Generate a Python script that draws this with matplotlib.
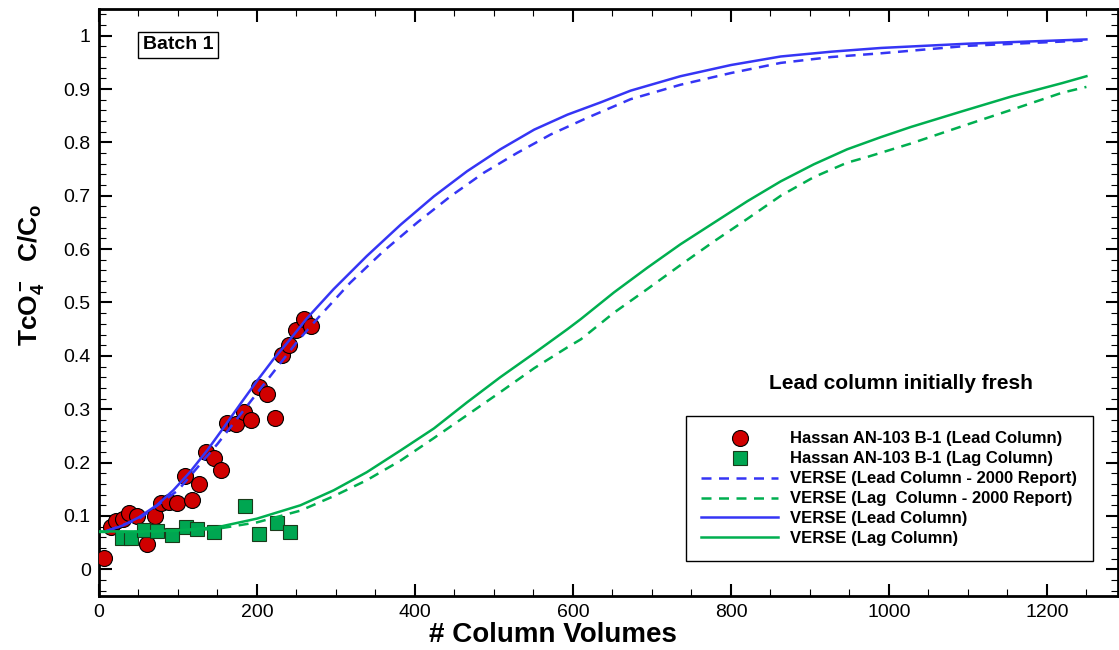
import numpy as np
import matplotlib
matplotlib.use('Agg')
import matplotlib.pyplot as plt
from matplotlib.ticker import MultipleLocator

plt.rcParams['font.family'] = ['Liberation Sans', 'DejaVu Sans']
plt.rcParams['mathtext.fontset'] = 'custom'
plt.rcParams['mathtext.rm'] = 'Liberation Sans:bold'
plt.rcParams['mathtext.it'] = 'Liberation Sans:bold'
plt.rcParams['mathtext.bf'] = 'Liberation Sans:bold'

# Hassan AN-103 B-1 measurements
lead_cv = [6, 15, 22, 30, 38, 48, 61, 71, 79, 89, 99, 109, 118, 127, 135, 145,
           154, 162, 174, 184, 193, 203, 213, 223, 232, 241, 250, 260, 269]
lead_c = [0.022, 0.079, 0.090, 0.094, 0.105, 0.100, 0.047, 0.099, 0.124, 0.127,
          0.124, 0.175, 0.130, 0.159, 0.220, 0.208, 0.186, 0.275, 0.272, 0.295,
          0.280, 0.341, 0.328, 0.284, 0.401, 0.421, 0.448, 0.469, 0.456]

lag_cv = [29, 40, 57, 74, 93, 110, 124, 145, 185, 203, 225, 242]
lag_c = [0.059, 0.059, 0.074, 0.071, 0.065, 0.079, 0.076, 0.069, 0.119, 0.066,
         0.086, 0.069]

# VERSE model curves
lead_2000_cv = [10, 50, 100, 150, 200, 250, 276, 318, 360, 403, 445, 487, 529,
                572, 618, 673, 736, 800, 863, 927, 990, 1100, 1250]
lead_2000 = [0.072, 0.094, 0.148, 0.235, 0.330, 0.425, 0.469, 0.537, 0.596,
             0.650, 0.699, 0.743, 0.780, 0.815, 0.846, 0.881, 0.908, 0.930,
             0.949, 0.960, 0.967, 0.981, 0.991]

lag_2000_cv = [0, 50, 100, 150, 200, 255, 297, 339, 382, 424, 466, 508, 551,
               593, 610, 652, 694, 736, 779, 821, 863, 905, 947, 971, 1028,
               1092, 1155, 1219, 1250]
lag_2000 = [0.070, 0.070, 0.072, 0.076, 0.088, 0.110, 0.137, 0.167, 0.204,
            0.246, 0.289, 0.332, 0.377, 0.416, 0.431, 0.481, 0.525, 0.570,
            0.615, 0.657, 0.700, 0.735, 0.762, 0.772, 0.798, 0.830, 0.861,
            0.893, 0.904]

lead_new_cv = [10, 30, 50, 73, 94, 115, 137, 158, 179, 200, 221, 242, 263, 297,
               339, 382, 424, 466, 508, 551, 593, 635, 673, 736, 800, 863, 927,
               990, 1100, 1250]
lead_new = [0.072, 0.082, 0.097, 0.120, 0.148, 0.182, 0.223, 0.266, 0.310,
            0.353, 0.394, 0.431, 0.470, 0.525, 0.587, 0.646, 0.699, 0.746,
            0.787, 0.824, 0.852, 0.875, 0.897, 0.924, 0.945, 0.961, 0.970,
            0.977, 0.985, 0.993]

lag_new_cv = [0, 50, 100, 150, 200, 255, 297, 339, 382, 424, 466, 508, 551, 593,
              610, 652, 694, 736, 779, 821, 863, 905, 947, 990, 1028, 1092,
              1155, 1219, 1250]
lag_new = [0.071, 0.071, 0.073, 0.079, 0.095, 0.120, 0.148, 0.182, 0.223,
           0.264, 0.313, 0.360, 0.405, 0.450, 0.469, 0.519, 0.565, 0.609,
           0.650, 0.690, 0.727, 0.759, 0.787, 0.810, 0.829, 0.858, 0.886,
           0.911, 0.924]

blue = '#3535F5'
green = '#00AF50'

fig = plt.figure(figsize=(11.19, 6.5), dpi=100)
ax = fig.add_axes([99 / 1119, 54 / 650, 1019 / 1119, 587 / 650])

ax.plot(lead_cv, lead_c, 'o', color='#D00000', mec='black', mew=0.8, ms=11.5,
        label='Hassan AN-103 B-1 (Lead Column)', zorder=3)
ax.plot(lag_cv, lag_c, 's', color='#00A651', mec='#1a3a1a', mew=0.8, ms=9.5,
        label='Hassan AN-103 B-1 (Lag Column)', zorder=3)
ax.plot(lead_2000_cv, lead_2000, color=blue, lw=1.8, dashes=(4, 3),
        label='VERSE (Lead Column - 2000 Report)', zorder=4)
ax.plot(lag_2000_cv, lag_2000, color=green, lw=1.8, dashes=(4, 3),
        label='VERSE (Lag  Column - 2000 Report)', zorder=4)
ax.plot(lead_new_cv, lead_new, color=blue, lw=1.8,
        label='VERSE (Lead Column)', zorder=4)
ax.plot(lag_new_cv, lag_new, color=green, lw=1.8,
        label='VERSE (Lag Column)', zorder=4)

ax.set_xlim(0, 1290)
ax.set_ylim(-0.05, 1.05)
ax.xaxis.set_major_locator(MultipleLocator(200))
ax.xaxis.set_minor_locator(MultipleLocator(50))
ax.yaxis.set_minor_locator(MultipleLocator(0.02))
ax.set_yticks(np.arange(0, 1.01, 0.1))
ax.set_yticklabels(['0', '0.1', '0.2', '0.3', '0.4', '0.5', '0.6', '0.7',
                    '0.8', '0.9', '1'])

ax.tick_params(which='both', direction='in', top=True, right=True,
               labelsize=14)
ax.tick_params(which='major', length=9, width=1.5, pad=6)
ax.tick_params(which='minor', length=5, width=0.8)
for s in ax.spines.values():
    s.set_linewidth(2)

ax.set_xlabel('# Column Volumes', fontsize=20, fontweight='bold')
ax.xaxis.set_label_coords(0.445, -0.045)
ax.set_ylabel(r'TcO$_4^-$  C/C$_o$', fontsize=19, fontweight='bold')
ax.yaxis.set_label_coords(-0.052, 0.547)

ax.text(100, 0.983, 'Batch 1', fontsize=14, fontweight='bold', ha='center',
        va='center', bbox=dict(boxstyle='square,pad=0.22', fc='white',
                               ec='black', lw=1))
ax.text(1015, 0.349, 'Lead column initially fresh', fontsize=15,
        fontweight='bold', ha='center', va='center')

leg = ax.legend(loc='upper left', bbox_to_anchor=(678 / 1119, 1 - 408 / 650),
                bbox_transform=fig.transFigure,
                prop={'weight': 'bold', 'size': 12}, numpoints=1,
                handlelength=4.6, handletextpad=0.75, labelspacing=0.3,
                borderpad=0.9, fancybox=False, framealpha=1)
leg.get_frame().set_edgecolor('black')
leg.get_frame().set_linewidth(1)

fig.savefig('out.png', dpi=100)
